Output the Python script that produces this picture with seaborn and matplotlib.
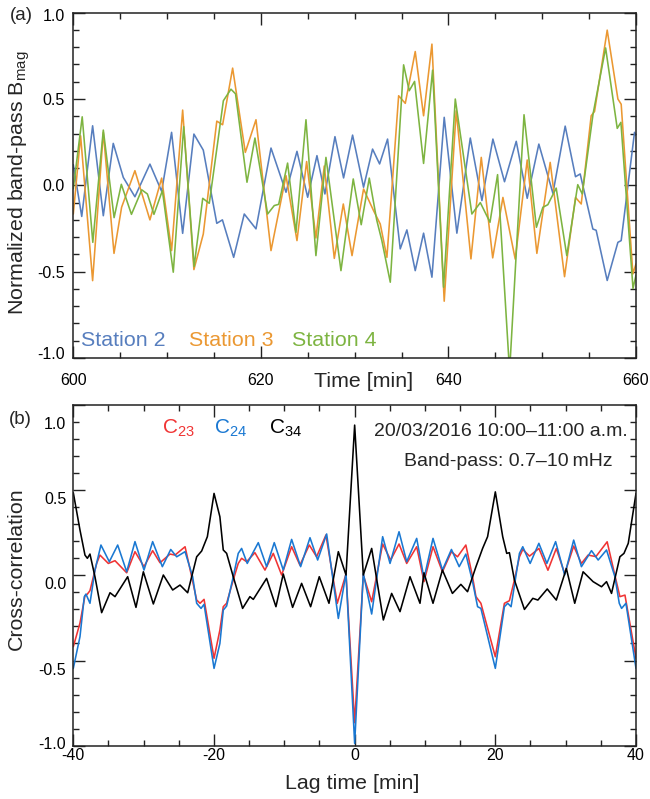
import numpy as np
import pandas as pd
import matplotlib
matplotlib.use("Agg")
import matplotlib.pyplot as plt
from matplotlib.ticker import MultipleLocator
from matplotlib.transforms import ScaledTranslation
import seaborn as sns

# ---------------- Panel (a): normalized band-pass B_mag ----------------
t_station2 = [600.0, 600.9, 602.06, 603.2, 604.26, 605.33, 606.57, 608.17, 609.42, 610.48,
              611.66, 612.86, 613.86, 615.3, 615.9, 617.1, 618.23, 619.48, 621.08, 622.68,
              623.85, 624.99, 625.98, 626.83, 627.9, 628.82, 629.78, 630.95, 631.91, 632.66,
              633.51, 634.86, 635.57, 636.46, 637.35, 638.24, 639.55, 640.9, 642.33, 643.57,
              644.74, 645.98, 647.23, 648.4, 649.64, 651.14, 652.45, 653.55, 654.05, 655.4,
              655.75, 656.93, 658.07, 658.42, 659.84, 660.0]
b_station2 = [0.12, -0.18, 0.345, -0.176, 0.243, 0.046, -0.066, 0.123, -0.035, 0.307,
              -0.278, 0.297, 0.204, -0.22, -0.2, -0.417, -0.166, -0.252, 0.216, -0.04,
              0.197, -0.069, 0.172, -0.05, 0.282, 0.043, 0.291, -0.011, 0.21, 0.124,
              0.268, -0.368, -0.258, -0.494, -0.277, -0.532, 0.394, -0.277, 0.274, -0.088,
              0.268, 0.021, 0.255, -0.075, 0.239, -0.046, 0.343, 0.05, 0.066, -0.253,
              -0.26, -0.551, -0.33, -0.32, 0.307, 0.29]

t_station3 = [600.0, 600.78, 602.06, 603.2, 604.34, 605.15, 605.6, 606.57, 608.17, 609.42,
              610.48, 611.66, 612.86, 613.86, 615.3, 615.92, 616.99, 618.34, 619.48, 621.08,
              622.68, 623.85, 624.88, 625.87, 626.76, 627.83, 628.79, 629.72, 630.95, 632.02,
              632.73, 633.44, 634.69, 635.4, 636.46, 637.35, 638.24, 639.55, 640.83, 642.4,
              643.5, 644.72, 645.81, 647.12, 648.4, 649.43, 650.85, 652.38, 653.55, 654.16,
              655.22, 655.58, 656.93, 658.07, 658.42, 659.67, 660.0]
b_station3 = [-0.166, 0.287, -0.552, 0.307, -0.394, -0.127, -0.06, 0.085, -0.2, 0.042,
              -0.378, 0.436, -0.488, -0.282, 0.372, 0.351, 0.679, 0.191, 0.38, -0.378,
              0.056, -0.32, 0.138, -0.305, 0.112, -0.423, -0.108, -0.407, -0.021, -0.147,
              -0.224, -0.417, 0.519, 0.475, 0.775, 0.403, 0.818, -0.671, 0.432, -0.426,
              0.162, -0.42, -0.07, -0.427, 0.147, -0.394, 0.133, -0.529, -0.07, -0.108,
              0.403, 0.428, 0.899, 0.5, 0.47, -0.513, -0.455]

t_station4 = [600.0, 600.95, 602.08, 603.2, 604.35, 605.12, 606.2, 607.3, 607.9, 608.6,
              609.5, 610.66, 611.77, 612.88, 613.8, 614.5, 615.4, 616.0, 616.81, 617.3,
              618.52, 619.37, 620.72, 621.43, 621.9, 622.85, 623.74, 624.81, 625.87, 626.94,
              628.54, 629.85, 630.7, 631.56, 632.35, 632.9, 633.8, 635.22, 635.82, 636.39,
              637.35, 638.31, 639.48, 640.73, 642.5, 643.4, 644.43, 645.24, 646.52, 648.06,
              649.38, 650.07, 650.6, 651.49, 652.62, 653.79, 654.27, 655.42, 656.76, 658.0,
              658.39, 659.68, 660.0]
b_station4 = [-0.02, 0.397, -0.33, 0.32, -0.187, 0.006, -0.168, -0.026, -0.05, -0.168,
              -0.03, -0.503, 0.34, -0.47, -0.075, -0.104, 0.25, 0.49, 0.557, 0.53,
              0.018, 0.274, -0.166, -0.117, -0.11, 0.129, -0.272, 0.38, -0.407, 0.162,
              -0.494, 0.037, -0.228, 0.042, -0.2, -0.32, -0.561, 0.698, 0.548, 0.602,
              0.127, 0.667, -0.59, 0.5, -0.166, -0.1, -0.214, 0.062, -1.08, 0.409,
              -0.243, -0.127, -0.112, -0.016, -0.407, 0.004, -0.05, 0.413, 0.796, 0.33,
              0.365, -0.597, -0.52]

# ---------------- Panel (b): cross-correlations ----------------
lag_c23 = [-40.0, -39.05, -38.34, -38.0, -37.63, -36.68, -36.21, -35.02, -34.07, -32.41,
           -31.23, -29.95, -28.72, -27.67, -26.25, -25.54, -24.11, -23.17, -22.46, -21.98,
           -21.41, -19.99, -19.16, -18.68, -18.2, -17.26, -16.55, -16.07, -15.36, -14.18,
           -12.75, -11.57, -10.38, -8.96, -7.78, -6.45, -5.41, -4.08, -2.47, -1.23,
           0.0, 1.23, 2.42, 3.98, 5.12, 6.31, 7.4, 8.82, 9.86, 11.14,
           12.48, 13.76, 14.62, 15.81, 16.76, 17.24, 17.95, 20.0, 21.29, 22.0,
           22.7, 23.43, 23.9, 24.86, 26.2, 27.48, 28.67, 29.86, 31.14, 32.24,
           33.19, 34.3, 35.9, 37.0, 37.71, 38.43, 40.0]
c23 = [-0.419, -0.28, -0.12, -0.11, -0.09, 0.07, 0.119, 0.07, 0.086, 0.015,
       0.139, 0.051, 0.145, 0.074, 0.125, 0.119, 0.168, -0.008, -0.145, -0.164,
       -0.141, -0.487, -0.321, -0.184, -0.164, -0.027, 0.07, 0.1, 0.08, 0.133,
       0.031, 0.129, 0.002, 0.168, 0.06, 0.178, 0.109, 0.237, -0.164, 0.008,
       -0.865, 0.002, -0.155, 0.184, 0.09, 0.184, 0.07, 0.168, -0.037, 0.168,
       0.021, 0.139, 0.109, 0.178, -0.008, -0.125, -0.164, -0.478, -0.164, -0.149,
       -0.03, 0.109, 0.152, 0.113, 0.158, 0.03, 0.158, 0.01, 0.172, 0.07,
       0.119, 0.11, 0.197, 0.0, -0.125, -0.116, -0.487]

lag_c24 = [-40.0, -39.05, -38.44, -38.2, -37.63, -36.92, -36.07, -34.88, -33.69, -32.41,
           -31.23, -29.95, -28.72, -27.34, -26.15, -25.3, -24.11, -23.03, -22.46, -21.84,
           -21.41, -19.99, -19.16, -18.68, -18.2, -17.26, -16.55, -16.07, -15.27, -13.7,
           -12.52, -11.43, -10.15, -8.96, -7.68, -6.35, -5.26, -3.98, -2.32, -1.23,
           0.0, 1.23, 2.42, 3.98, 5.03, 6.31, 7.4, 8.82, 9.86, 11.14,
           12.48, 13.76, 14.86, 15.81, 16.76, 17.48, 17.95, 20.0, 21.29, 21.76,
           22.24, 23.43, 23.9, 24.95, 26.19, 27.33, 28.57, 29.86, 31.14, 32.24,
           33.67, 34.62, 35.81, 37.0, 37.62, 37.95, 38.57, 40.0]
c24 = [-0.546, -0.36, -0.126, -0.11, -0.164, 0.031, 0.178, 0.08, 0.178, 0.021,
       0.198, 0.031, 0.198, 0.051, 0.152, 0.109, 0.139, -0.008, -0.164, -0.194,
       -0.17, -0.546, -0.4, -0.204, -0.18, -0.008, 0.129, 0.158, 0.07, 0.192,
       0.051, 0.192, 0.031, 0.211, 0.051, 0.221, 0.09, 0.243, -0.253, 0.012,
       -0.987, 0.012, -0.227, 0.227, 0.07, 0.256, 0.08, 0.217, -0.018, 0.217,
       0.031, 0.152, 0.051, 0.125, -0.037, -0.184, -0.194, -0.546, -0.184, -0.164,
       -0.184, 0.129, 0.168, 0.07, 0.188, 0.07, 0.198, 0.002, 0.207, 0.051,
       0.145, 0.09, 0.149, -0.008, -0.164, -0.194, -0.164, -0.546]

lag_c34 = [-40.0, -39.05, -38.34, -38.0, -37.63, -36.92, -35.97, -34.78, -34.07, -32.27,
           -31.09, -30.04, -28.62, -27.2, -25.87, -24.83, -23.74, -22.46, -21.75, -20.94,
           -19.99, -19.16, -18.68, -18.2, -17.26, -15.93, -14.89, -14.41, -12.52, -11.19,
           -10.15, -8.82, -7.54, -6.26, -5.03, -3.65, -2.32, -1.23, 0.0, 1.23,
           2.42, 4.08, 5.26, 6.45, 7.87, 9.29, 9.86, 11.14, 12.48, 13.9,
           15.1, 16.05, 17.24, 18.19, 18.9, 20.0, 21.05, 21.62, 22.0, 22.71,
           24.14, 25.33, 26.05, 27.38, 28.67, 30.1, 31.29, 32.48, 33.9, 35.1,
           35.81, 36.52, 37.71, 38.29, 38.9, 40.0]
c34 = [0.485, 0.266, 0.119, 0.1, 0.125, -0.008, -0.219, -0.102, -0.125, -0.008,
       -0.188, 0.021, -0.168, 0.002, -0.086, -0.057, -0.102, 0.109, 0.143, 0.227,
       0.481, 0.344, 0.149, 0.129, -0.008, -0.194, -0.125, -0.141, -0.018, -0.184,
       0.008, -0.188, -0.047, -0.184, -0.008, -0.164, 0.139, 0.002, 0.882, 0.002,
       0.158, -0.262, -0.106, -0.213, -0.008, -0.164, 0.015, -0.164, 0.031, -0.106,
       -0.053, -0.096, 0.05, 0.158, 0.227, 0.49, 0.227, 0.129, 0.133, -0.027,
       -0.2, -0.135, -0.145, -0.08, -0.145, 0.04, -0.164, 0.021, -0.037, -0.067,
       -0.037, -0.106, 0.109, 0.129, 0.188, 0.481]

station_labels = ["Station 2", "Station 3", "Station 4"]
corr_labels = ["C$_{23}$", "C$_{24}$", "C$_{34}$"]

# ---------------- style ----------------
sns.set_theme(style="ticks")
FAM = ["Liberation Sans", "DejaVu Sans"]
plt.rcParams["font.family"] = FAM
plt.rcParams["mathtext.fontset"] = "custom"
plt.rcParams["mathtext.rm"] = "Liberation Sans"
plt.rcParams["mathtext.it"] = "Liberation Sans:italic"
plt.rcParams["mathtext.bf"] = "Liberation Sans:bold"
plt.rcParams["axes.unicode_minus"] = False
plt.rcParams["axes.linewidth"] = 1.1
plt.rcParams["axes.edgecolor"] = "#222222"

C_ST2 = "#577ebe"
C_ST3 = "#eb9832"
C_ST4 = "#7db441"
C_23 = "#f03434"
C_24 = "#1a78d2"
C_34 = "#000000"

W, H = 650, 799
fig = plt.figure(figsize=(6.5, 7.99), dpi=100)

def frac_axes(left, right, top, bottom):
    return [left / W, 1 - bottom / H, (right - left) / W, (bottom - top) / H]

ax1 = fig.add_axes(frac_axes(73.3, 636, 12.7, 358))
ax2 = fig.add_axes(frac_axes(73.3, 636, 405, 745.7))

LW = 1.15
for t, b, c in [(t_station2, b_station2, C_ST2), (t_station3, b_station3, C_ST3),
                (t_station4, b_station4, C_ST4)]:
    sns.lineplot(x=t, y=b, ax=ax1, color=c, linewidth=LW, estimator=None, sort=False)

for l, v, c in [(lag_c23, c23, C_23), (lag_c24, c24, C_24), (lag_c34, c34, C_34)]:
    sns.lineplot(x=l, y=v, ax=ax2, color=c, linewidth=LW, estimator=None, sort=False)

TICK_FS = 11.5
for ax in (ax1, ax2):
    ax.set_ylim(-1.0, 1.0)
    ax.yaxis.set_major_locator(MultipleLocator(0.5))
    ax.yaxis.set_minor_locator(MultipleLocator(0.1))
    ax.xaxis.set_major_locator(MultipleLocator(20))
    ax.xaxis.set_minor_locator(MultipleLocator(5))
    ax.tick_params(which="both", direction="in", top=True, right=True,
                   color="#222222", width=1.0, labelsize=TICK_FS, labelcolor="black")
    ax.tick_params(which="major", length=8.5)
    ax.tick_params(which="minor", length=4.3)
    ax.yaxis.set_major_formatter(matplotlib.ticker.FormatStrFormatter("%.1f"))

ax1.set_xlim(600, 660)
ax2.set_xlim(-40, 40)
ax1.tick_params(axis="x", which="major", pad=10.5)
ax1.tick_params(axis="y", which="major", pad=6)
ax2.tick_params(axis="x", which="major", pad=2)
ax2.tick_params(axis="y", which="major", pad=5)

# labels
LAB_FS = 15.4
ax1.set_xlabel("Time [min]", fontsize=LAB_FS, va="center")
ax1.xaxis.set_label_coords(0.516, -0.067)
ax1.set_ylabel("Normalized band-pass B$_{\\mathrm{mag}}$", fontsize=LAB_FS, va="center")
ax1.yaxis.set_label_coords(-0.0965, 0.508)
ax2.set_xlabel("Lag time [min]", fontsize=LAB_FS, va="center")
ax2.xaxis.set_label_coords(0.495, -0.112)
ax2.set_ylabel("Cross-correlation", fontsize=LAB_FS, va="center")
ax2.yaxis.set_label_coords(-0.102, 0.52)

fig.text(21 / W, 1 - 16 / H, "(a)", fontsize=13.5, ha="center", va="center")
fig.text(20 / W, 1 - 420 / H, "(b)", fontsize=13.5, ha="center", va="center")

# station "legend"
for xf, lab, c in zip([0.0133, 0.206, 0.388], station_labels, [C_ST2, C_ST3, C_ST4]):
    ax1.text(xf, 0.052, lab, color=c, fontsize=LAB_FS, ha="left", va="center",
             transform=ax1.transAxes)

# correlation labels
for xf, lab, c in zip([0.158, 0.25, 0.348], corr_labels, [C_23, C_24, C_34]):
    ax2.text(xf, 0.917, lab, color=c, fontsize=15, ha="left", va="baseline",
             transform=ax2.transAxes)

ax2.text(0.986, 0.922, "20/03/2016 10:00\u201311:00 a.m.", fontsize=14, ha="right",
         va="center", transform=ax2.transAxes, family=FAM)
ax2.text(0.959, 0.834, "Band-pass: 0.7\u201310\u2009mHz", fontsize=14, ha="right",
         va="center", transform=ax2.transAxes, family=FAM)

# shift y tick labels vertically as in the original figure
fig.canvas.draw()
def shift_labels(ax, shifts_px):
    for lbl in ax.get_yticklabels():
        try:
            val = float(lbl.get_text().replace("\u2212", "-"))
        except ValueError:
            continue
        key = round(val, 1)
        dy = shifts_px.get(key, 0.0)
        lbl.set_transform(lbl.get_transform() + ScaledTranslation(0, -dy / 100.0, fig.dpi_scale_trans))

shift_labels(ax1, {1.0: 2.0, -1.0: -5.0})
shift_labels(ax2, {1.0: 18.0, 0.5: 8.0, 0.0: 8.0, -0.5: 8.0, -1.0: -3.0})

fig.savefig("out.png", dpi=100)
